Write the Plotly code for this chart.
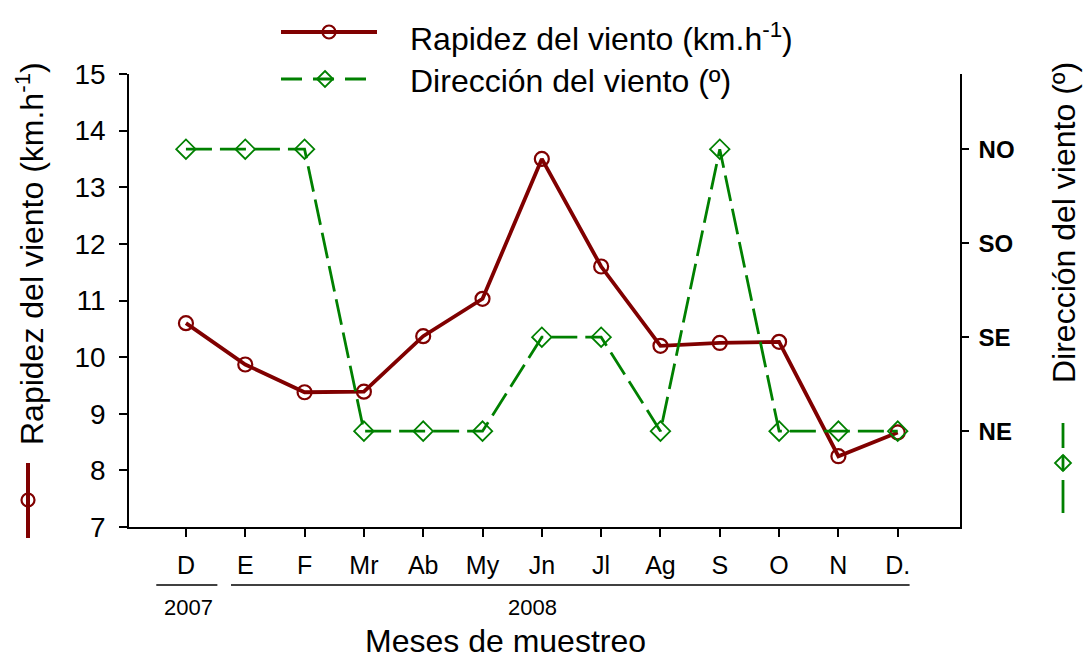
import plotly.graph_objects as go

# Data
months = ['D', 'E', 'F', 'Mr', 'Ab', 'My', 'Jn', 'Jl', 'Ag', 'S', 'O', 'N', 'D.']
speed = [10.6, 9.87, 9.38, 9.39, 10.37, 11.03, 13.5, 11.6, 10.2, 10.25, 10.27, 8.25, 8.67]
dir_labels = ['NE', 'SE', 'SO', 'NO']
direction = ['NO', 'NO', 'NO', 'NE', 'NE', 'NE', 'SE', 'SE', 'NE', 'NO', 'NE', 'NE', 'NE']
dir_val = [dir_labels.index(d) + 1 for d in direction]
x = list(range(len(months)))

RED = '#800000'
GREEN = '#008000'
FONT = 'Liberation Sans, Arial, sans-serif'

W, H = 1083, 658
L, R, T, B = 129, 960, 74, 527


def px(xp):
    return (xp - L) / (R - L)


def py(yp):
    return (B - yp) / (B - T)


def text(s, xp, yp, size, xref='paper', xanchor='center', angle=0):
    return dict(text=s, xref=xref, yref='paper',
                x=px(xp) if xref == 'paper' else xp, y=py(yp),
                xanchor=xanchor, yanchor='middle', textangle=angle,
                showarrow=False, font=dict(size=size))


fig = go.Figure()

fig.add_trace(go.Scatter(
    x=x, y=speed, mode='lines+markers',
    line=dict(color=RED, width=3.8),
    marker=dict(symbol='circle-open', size=14, color=RED, line=dict(width=2.2)),
    yaxis='y'))

fig.add_trace(go.Scatter(
    x=x, y=dir_val, mode='lines+markers',
    line=dict(color=GREEN, width=2.8, dash='26px,8px'),
    marker=dict(symbol='diamond-open', size=15, color=GREEN, line=dict(width=1.8)),
    yaxis='y2'))

shapes = []
annotations = []

# year brackets under month labels
shapes.append(dict(type='line', xref='x', yref='paper', x0=-0.5, x1=0.53,
                   y0=py(585), y1=py(585), line=dict(color='black', width=1.5)))
shapes.append(dict(type='line', xref='x', yref='paper', x0=0.76, x1=12.2,
                   y0=py(585), y1=py(585), line=dict(color='black', width=1.5)))
annotations.append(text('2007', 0.05, 607, 22, xref='x'))
annotations.append(text('2008', 5.85, 607, 22, xref='x'))
annotations.append(text('Meses de muestreo', 505, 641, 32))

# axis titles
annotations.append(text('Rapidez del viento (km.h<sup>-1</sup>)', 30, 254, 32, angle=-90))
annotations.append(text('Dirección del viento (º)', 1064, 223, 32, angle=-90))


def circle(cx, cy, r, color):
    return dict(type='circle', xref='paper', yref='paper',
                x0=px(cx - r), x1=px(cx + r), y0=py(cy + r), y1=py(cy - r),
                line=dict(color=color, width=2.2))


def diamond(cx, cy, r, color):
    path = 'M {} {} L {} {} L {} {} L {} {} Z'.format(
        px(cx), py(cy - r), px(cx + r), py(cy), px(cx), py(cy + r), px(cx - r), py(cy))
    return dict(type='path', xref='paper', yref='paper', path=path,
                line=dict(color=color, width=1.8))


def vline(xp, y0, y1, color, width):
    return dict(type='line', xref='paper', yref='paper', x0=px(xp), x1=px(xp),
                y0=py(y0), y1=py(y1), line=dict(color=color, width=width))


# left axis key
shapes.append(vline(28, 463, 538, RED, 4))
shapes.append(circle(28, 500, 6.5, RED))

# right axis key
shapes.append(vline(1063, 423, 448, GREEN, 2.8))
shapes.append(vline(1063, 455, 471, GREEN, 2.8))
shapes.append(vline(1063, 480, 513, GREEN, 2.8))
shapes.append(diamond(1063, 463, 8, GREEN))

# top legend
shapes.append(dict(type='line', xref='paper', yref='paper', x0=px(281), x1=px(377),
                   y0=py(32), y1=py(32), line=dict(color=RED, width=4)))
shapes.append(circle(329, 32, 6.5, RED))
shapes.append(dict(type='line', xref='paper', yref='paper', x0=px(281), x1=px(368),
                   y0=py(79), y1=py(79), line=dict(color=GREEN, width=2.8, dash='21px,11px')))
shapes.append(diamond(325, 79, 8, GREEN))
annotations.append(text('Rapidez del viento (km.h<sup>-1</sup>)', 408, 37, 32, xanchor='left'))
annotations.append(text('Dirección del viento (º)', 408, 81, 32, xanchor='left'))

fig.update_layout(
    width=W, height=H,
    margin=dict(l=L, r=W - R, t=T, b=H - B, autoexpand=False),
    paper_bgcolor='white', plot_bgcolor='white',
    font=dict(family=FONT, color='black'),
    showlegend=False,
    shapes=shapes,
    annotations=annotations,
    xaxis=dict(range=[-0.96, 13.05], tickvals=x, ticktext=months,
               showline=True, linecolor='black', linewidth=1.5,
               ticks='outside', ticklen=8, tickwidth=1.5, tickcolor='black',
               ticklabelstandoff=7, tickfont=dict(size=25),
               showgrid=False, zeroline=False),
    yaxis=dict(range=[7, 15], dtick=1, showline=True, linecolor='black', linewidth=1.5,
               ticks='outside', ticklen=8, tickwidth=1.5, tickcolor='black',
               ticklabelstandoff=8, tickfont=dict(size=28),
               showgrid=False, zeroline=False),
    yaxis2=dict(range=[-0.02, 4.8], overlaying='y', side='right',
                tickvals=[1, 2, 3, 4], ticktext=['<b>%s</b>' % s for s in dir_labels],
                showline=True, linecolor='black', linewidth=1.5,
                ticks='outside', ticklen=7, tickwidth=1.5, tickcolor='black',
                ticklabelstandoff=5, tickfont=dict(size=24),
                showgrid=False, zeroline=False),
)

fig.write_html('out.html', config={'displayModeBar': False},
               post_script="document.body.style.margin='0';")
